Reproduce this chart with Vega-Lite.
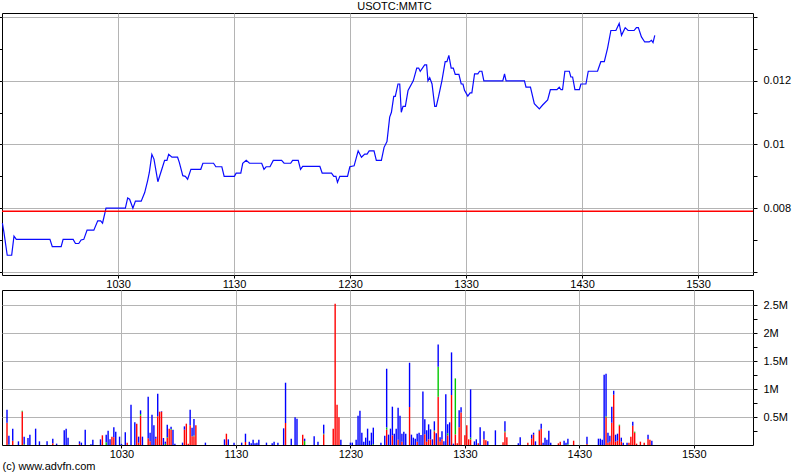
{
  "$schema": "https://vega.github.io/schema/vega-lite/v6.json",
  "background": "white",
  "padding": {"left": -2, "top": 0, "right": 0, "bottom": 0},
  "bounds": "flush",
  "spacing": 15,
  "config": {
    "font": "Liberation Sans",
    "view": {"stroke": "#000000", "strokeWidth": 1},
    "axis": {
      "labelFont": "Liberation Sans",
      "labelFontSize": 11,
      "labelColor": "#000000",
      "gridColor": "#b4b4b4",
      "gridWidth": 1,
      "tickColor": "#000000",
      "domain": false,
      "title": null
    }
  },
  "title": {"text": "USOTC:MMTC", "font": "Liberation Sans", "fontSize": 11, "fontWeight": "normal", "color": "#000000", "anchor": "middle", "offset": 1},
  "datasets": {
    "price": [
      {"t":570.2,"price":0.00753},{"t":571,"price":0.00724},{"t":572.7,"price":0.00652},{"t":575,"price":0.00652},
      {"t":576.2,"price":0.00712},{"t":577.4,"price":0.00702},{"t":594.8,"price":0.00702},{"t":596,"price":0.00679},
      {"t":600.6,"price":0.00679},{"t":601.6,"price":0.00702},{"t":606.8,"price":0.00702},{"t":608,"price":0.00689},
      {"t":609.7,"price":0.00689},{"t":610.9,"price":0.0070},{"t":612.3,"price":0.00702},{"t":614,"price":0.00731},
      {"t":617.5,"price":0.00731},{"t":619.5,"price":0.0076},{"t":621,"price":0.0076},{"t":622,"price":0.00753},
      {"t":623.8,"price":0.0080},{"t":633.8,"price":0.0080},{"t":635,"price":0.00832},{"t":636,"price":0.00828},
      {"t":637.7,"price":0.0080},{"t":639,"price":0.00822},{"t":642,"price":0.00822},{"t":643.8,"price":0.00849},
      {"t":645.3,"price":0.00886},{"t":646.2,"price":0.00912},{"t":647.5,"price":0.00969},{"t":648.6,"price":0.00954},
      {"t":650.6,"price":0.00883},{"t":652.7,"price":0.00923},{"t":654.1,"price":0.0095},{"t":655.3,"price":0.0095},
      {"t":656.2,"price":0.00969},{"t":657.9,"price":0.0096},{"t":660.8,"price":0.0096},{"t":661.7,"price":0.00944},
      {"t":663.5,"price":0.00902},{"t":664.8,"price":0.009},{"t":666,"price":0.00891},{"t":667.7,"price":0.00922},
      {"t":672.8,"price":0.00922},{"t":673.9,"price":0.00941},{"t":679.4,"price":0.00941},{"t":680.6,"price":0.0093},
      {"t":683.7,"price":0.0093},{"t":684.9,"price":0.009},{"t":690.2,"price":0.009},{"t":691.1,"price":0.0091},
      {"t":693.5,"price":0.0091},{"t":694.5,"price":0.00941},{"t":696.3,"price":0.0095},{"t":698,"price":0.00941},
      {"t":704.3,"price":0.00941},{"t":705.5,"price":0.00922},{"t":706.6,"price":0.0093},{"t":708.6,"price":0.0093},
      {"t":710.3,"price":0.0095},{"t":714.6,"price":0.0095},{"t":715.9,"price":0.00941},{"t":719.3,"price":0.00941},
      {"t":720.3,"price":0.0095},{"t":723.2,"price":0.0095},{"t":724.4,"price":0.00922},{"t":725.5,"price":0.00931},
      {"t":734.4,"price":0.00931},{"t":735.6,"price":0.0091},{"t":740.4,"price":0.0091},{"t":741.6,"price":0.009},
      {"t":742.7,"price":0.009},{"t":743.5,"price":0.00881},{"t":744.7,"price":0.009},{"t":748.7,"price":0.009},
      {"t":749.9,"price":0.0093},{"t":752.1,"price":0.00933},{"t":754.2,"price":0.0098},{"t":755.9,"price":0.0096},
      {"t":757.6,"price":0.0097},{"t":758.8,"price":0.0097},{"t":759.9,"price":0.0098},{"t":762.4,"price":0.0098},
      {"t":763.6,"price":0.0095},{"t":766.2,"price":0.0095},{"t":767.6,"price":0.00991},{"t":769.1,"price":0.01009},
      {"t":770.5,"price":0.01086},{"t":771.4,"price":0.01101},{"t":772.6,"price":0.01151},{"t":773.4,"price":0.01151},
      {"t":774.8,"price":0.0119},{"t":775.7,"price":0.0119},{"t":776.5,"price":0.01101},{"t":777.4,"price":0.0112},
      {"t":778.6,"price":0.0112},{"t":780,"price":0.0117},{"t":782.7,"price":0.012},{"t":784.5,"price":0.0124},
      {"t":785.5,"price":0.0124},{"t":786.3,"price":0.0123},{"t":788.6,"price":0.0125},{"t":789.6,"price":0.0125},
      {"t":790.3,"price":0.012},{"t":791.2,"price":0.0121},{"t":792.4,"price":0.0119},{"t":793.8,"price":0.0112},
      {"t":794.6,"price":0.0112},{"t":795.8,"price":0.01151},{"t":797.5,"price":0.012},{"t":799.2,"price":0.0126},
      {"t":800.1,"price":0.0126},{"t":801.1,"price":0.0128},{"t":802.3,"price":0.0124},{"t":803.4,"price":0.0124},
      {"t":804.4,"price":0.0122},{"t":806.3,"price":0.0122},{"t":807.5,"price":0.0119},{"t":808.4,"price":0.0119},
      {"t":809.2,"price":0.0117},{"t":810.9,"price":0.01152},{"t":812.1,"price":0.01162},{"t":813,"price":0.01162},
      {"t":814.4,"price":0.01222},{"t":816.1,"price":0.01222},{"t":817,"price":0.0123},{"t":818.2,"price":0.0123},
      {"t":819.2,"price":0.012},{"t":829,"price":0.012},{"t":829.9,"price":0.01222},{"t":830.7,"price":0.012},
      {"t":840.2,"price":0.012},{"t":841,"price":0.0118},{"t":843.3,"price":0.0118},{"t":845.3,"price":0.01128},
      {"t":847.9,"price":0.01112},{"t":849.6,"price":0.01124},{"t":852.2,"price":0.0114},{"t":853.6,"price":0.01172},
      {"t":857,"price":0.01172},{"t":858.2,"price":0.0118},{"t":859.1,"price":0.01172},{"t":859.9,"price":0.01172},
      {"t":861.1,"price":0.0123},{"t":863.4,"price":0.0123},{"t":864.2,"price":0.01212},{"t":865.1,"price":0.01212},
      {"t":866.3,"price":0.01172},{"t":868.6,"price":0.01172},{"t":869.4,"price":0.0119},{"t":872,"price":0.0119},
      {"t":873.2,"price":0.0123},{"t":878,"price":0.0123},{"t":879.7,"price":0.0126},{"t":881.5,"price":0.0126},
      {"t":883.2,"price":0.01303},{"t":884.9,"price":0.01358},{"t":887.5,"price":0.01358},{"t":889.2,"price":0.0138},
      {"t":890.4,"price":0.01343},{"t":892.3,"price":0.01367},{"t":893.8,"price":0.01358},{"t":896.9,"price":0.01358},
      {"t":898.1,"price":0.01367},{"t":899.1,"price":0.01367},{"t":900.7,"price":0.01338},{"t":902.4,"price":0.01322},
      {"t":904.7,"price":0.01322},{"t":905.9,"price":0.01327},{"t":906.7,"price":0.0132},{"t":907.6,"price":0.01343}
    ],
    "prevclose": [{"price": 0.0079}],
    "volume": [
      {"t":570,"r":393000,"g":5000,"b":233000},{"t":571,"g":10000,"b":157000},{"t":573,"r":77000,"b":215000},
      {"t":576,"b":65000},{"t":578,"r":600000,"g":13000},{"t":579,"g":15000,"b":134000},{"t":581,"b":125000},
      {"t":582,"b":184000},{"t":585,"b":292000},{"t":587,"b":65000},{"t":591,"b":65000},{"t":594,"r":30000,"b":83000},
      {"t":596,"b":24000},{"t":600,"b":262000},{"t":601,"b":292000},{"t":602,"b":131000},{"t":608,"r":20000,"b":45000},
      {"t":609,"b":42000},{"t":611,"b":274000},{"t":614,"b":12000},{"t":615,"b":95000},{"t":619,"b":101000},
      {"t":620,"r":173000},{"t":622,"g":50000,"b":134000},{"t":623,"b":256000},{"t":624,"b":101000},{"t":625,"r":149000},
      {"t":626,"r":137000,"b":178000},{"t":627,"b":238000},{"t":629,"b":149000},{"t":630,"b":20000},{"t":632,"b":226000},
      {"t":633,"r":42000},{"t":635,"b":720000},{"t":637,"b":405000},{"t":638,"r":381000},{"t":639,"r":40000,"b":109000},
      {"t":640,"r":524000,"g":30000,"b":65000},{"t":641,"b":149000},{"t":644,"r":119000,"b":744000},{"t":645,"r":65000,"b":155000},
      {"t":646,"b":542000},{"t":647,"b":351000},{"t":648,"r":113000,"b":36000},{"t":649,"r":512000,"b":405000},
      {"t":650,"r":595000},{"t":651,"r":595000,"b":10000},{"t":652,"b":125000},{"t":653,"g":20000,"b":40000},
      {"t":654,"r":125000,"g":15000,"b":223000},{"t":655,"r":292000},{"t":656,"r":274000,"g":10000,"b":43000},
      {"t":657,"b":274000},{"t":658,"b":24000},{"t":662,"b":42000},{"t":663,"r":274000,"b":59000},{"t":664,"r":381000},
      {"t":665,"r":24000},{"t":666,"r":351000,"b":280000},{"t":667,"r":155000,"b":155000},{"t":668,"r":155000,"g":17000,"b":292000},
      {"t":669,"r":351000},{"t":674,"b":42000},{"t":684,"b":101000},{"t":685,"r":202000},{"t":686,"b":101000},
      {"t":689,"b":42000},{"t":693,"b":42000},{"t":695,"r":54000,"b":148000},{"t":697,"b":60000},{"t":698,"b":30000},
      {"t":699,"b":95000},{"t":700,"b":30000},{"t":701,"b":42000},{"t":702,"b":95000},{"t":706,"b":42000},
      {"t":709,"b":30000},{"t":710,"b":60000},{"t":712,"b":42000},{"t":715,"b":298000},{"t":716,"r":393000,"b":720000},
      {"t":719,"b":113000},{"t":721,"b":494000},{"t":722,"b":470000},{"t":725,"r":185000},{"t":726,"g":70000,"b":43000},
      {"t":731,"b":155000},{"t":733,"b":60000},{"t":736,"r":190000,"g":12000,"b":161000},{"t":741,"r":292000},
      {"t":742,"r":2524000},{"t":743,"r":720000},{"t":744,"r":494000},{"t":745,"b":95000},{"t":750,"b":42000},
      {"t":751,"b":42000},{"t":753,"b":95000},{"t":754,"b":524000},{"t":755,"b":613000},{"t":756,"b":220000},
      {"t":757,"b":60000},{"t":758,"b":131000},{"t":759,"b":292000},{"t":760,"b":77000},{"t":761,"b":220000},
      {"t":762,"g":15000,"b":295000},{"t":766,"b":42000},{"t":768,"b":167000},{"t":769,"r":274000,"g":40000,"b":1049000},
      {"t":770,"b":185000},{"t":771,"b":292000},{"t":772,"r":173000,"b":512000},{"t":773,"b":202000},{"t":774,"b":292000},
      {"t":775,"r":95000,"b":572000},{"t":776,"b":524000},{"t":777,"r":60000,"b":142000},{"t":778,"b":238000},
      {"t":779,"b":202000},{"t":781,"r":679000,"b":791000},{"t":782,"b":185000},{"t":783,"b":131000},{"t":784,"b":113000},
      {"t":785,"r":60000,"b":142000},{"t":786,"b":220000},{"t":787,"b":179000},{"t":788,"b":958000},
      {"t":789,"r":190000,"b":268000},{"t":790,"r":60000,"b":202000},{"t":791,"r":101000,"b":268000},{"t":792,"r":101000,"b":179000},
      {"t":793,"b":101000},{"t":794,"r":244000,"g":18000,"b":161000},{"t":795,"b":208000},{"t":796,"r":863000,"g":536000,"b":399000},
      {"t":797,"r":60000,"b":77000},{"t":798,"r":101000,"b":143000},{"t":799,"b":65000},{"t":800,"b":905000},
      {"t":801,"r":173000,"g":35000,"b":161000},{"t":802,"b":405000},{"t":803,"r":893000,"b":762000},{"t":804,"b":24000},
      {"t":805,"r":190000,"g":1000000},{"t":806,"r":30000},{"t":807,"r":316000,"b":303000},{"t":808,"r":583000,"b":90000},
      {"t":810,"r":173000},{"t":811,"r":351000},{"t":812,"r":101000},{"t":813,"r":101000,"g":30000,"b":863000},
      {"t":815,"b":65000},{"t":816,"b":101000},{"t":817,"r":30000},{"t":818,"b":316000},{"t":820,"r":101000,"b":143000},
      {"t":821,"r":83000},{"t":822,"b":65000},{"t":826,"b":262000},{"t":830,"r":48000},{"t":831,"r":226000,"g":18000,"b":179000},
      {"t":832,"r":137000},{"t":838,"b":30000},{"t":839,"b":137000},{"t":843,"r":42000},{"t":845,"r":113000,"b":71000},
      {"t":846,"r":184000,"b":36000},{"t":847,"b":65000},{"t":849,"r":250000,"g":8000,"b":16000},{"t":850,"r":292000,"b":89000},
      {"t":851,"b":42000},{"t":852,"b":131000},{"t":853,"b":95000},{"t":854,"b":256000},{"t":855,"b":42000},
      {"t":859,"r":30000},{"t":860,"r":60000},{"t":862,"b":77000},{"t":863,"b":42000},{"t":864,"g":15000,"b":98000},
      {"t":867,"r":77000},{"t":874,"r":20000,"b":129000},{"t":880,"b":113000},{"t":881,"b":113000},{"t":882,"b":95000},
      {"t":883,"b":1256000},{"t":884,"r":494000,"g":18000,"b":762000},{"t":885,"r":42000,"b":178000},{"t":886,"r":60000,"b":107000},
      {"t":887,"r":399000,"b":286000},{"t":888,"r":899000,"b":71000},{"t":889,"r":60000,"b":124000},{"t":890,"r":77000,"b":125000},
      {"t":891,"r":345000,"g":18000},{"t":892,"r":60000,"b":71000},{"t":893,"b":42000},{"t":895,"b":42000},
      {"t":896,"r":42000},{"t":897,"r":149000},{"t":898,"r":345000,"b":72000},{"t":899,"r":220000,"g":18000},
      {"t":900,"r":24000},{"t":902,"r":60000},{"t":904,"r":42000},{"t":906,"r":107000,"b":77000},{"t":907,"r":95000},
      {"t":908,"b":77000}
    ]
  },
  "vconcat": [
    {
      "width": 751,
      "height": 262,
      "layer": [
        {
          "data": {"name": "price"},
          "mark": {"type": "line", "color": "#0a0aff", "strokeWidth": 1.2},
          "encoding": {
            "x": {
              "field": "t", "type": "quantitative",
              "scale": {"domain": [570, 958.4], "nice": false, "zero": false},
              "axis": {
                "values": [630, 690, 750, 810, 870, 930],
                "labelExpr": "'' + (floor(datum.value/60)*100 + datum.value%60)",
                "grid": true, "tickSize": 3, "labelPadding": 0, "labelFlush": false
              }
            },
            "y": {
              "field": "price", "type": "quantitative",
              "scale": {"domain": [0.0059, 0.01413], "nice": false, "zero": false},
              "axis": {
                "orient": "right",
                "values": [0.006, 0.007, 0.008, 0.009, 0.01, 0.011, 0.012, 0.013, 0.014],
                "labelExpr": "(round(datum.value*1000) % 2 == 0 && datum.value > 0.0065 && datum.value < 0.0135) ? format(datum.value, '~g') : ''",
                "grid": true,
                "gridOpacity": {"condition": {"test": "round(datum.value*1000) % 2 == 0", "value": 1}, "value": 0},
                "tickSize": 4, "labelPadding": 6
              }
            }
          }
        },
        {
          "data": {"name": "prevclose"},
          "mark": {"type": "rule", "color": "#ff0000", "strokeWidth": 1.5},
          "encoding": {
            "y": {
              "field": "price", "type": "quantitative",
              "axis": {
                "orient": "left",
                "values": [0.006, 0.007, 0.008, 0.009, 0.01, 0.011, 0.012, 0.013, 0.014],
                "labels": false, "grid": false, "tickSize": 3
              }
            }
          }
        }
      ],
      "resolve": {"axis": {"y": "independent"}}
    },
    {
      "width": 751,
      "height": 155,
      "data": {"name": "volume"},
      "transform": [
        {"fold": ["r", "g", "b"], "as": ["part", "vol"]},
        {"filter": "datum.vol > 0"}
      ],
      "mark": {"type": "bar", "size": 1.4},
      "encoding": {
        "x": {
          "field": "t", "type": "quantitative",
          "scale": {"domain": [570, 958.4], "nice": false, "zero": false},
          "axis": {
            "values": [630, 690, 750, 810, 870, 930],
            "labelExpr": "'' + (floor(datum.value/60)*100 + datum.value%60)",
            "grid": true, "tickSize": 3, "labelPadding": 0, "labelFlush": false,
            "title": "(c) www.advfn.com",
            "titleFont": "Liberation Sans", "titleFontSize": 11, "titleFontWeight": "normal",
            "titleColor": "#000000", "titleAnchor": "start", "titleAlign": "left",
            "titleX": 0, "titleY": 15, "titleBaseline": "top"
          }
        },
        "y": {
          "field": "vol", "type": "quantitative", "stack": "zero",
          "scale": {"domain": [0, 2770000], "nice": false},
          "axis": {
            "orient": "right",
            "values": [250000, 500000, 750000, 1000000, 1250000, 1500000, 1750000, 2000000, 2250000, 2500000],
            "labelExpr": "datum.value % 500000 == 0 ? (datum.value/1000000) + 'M' : ''",
            "grid": true,
            "gridOpacity": {"condition": {"test": "datum.value % 500000 == 0", "value": 1}, "value": 0},
            "tickSize": 4, "labelPadding": 6
          }
        },
        "color": {
          "field": "part", "type": "nominal",
          "scale": {"domain": ["r", "g", "b"], "range": ["#ff0000", "#00c800", "#0000ff"]},
          "legend": null
        },
        "order": {"field": "part", "sort": "descending"}
      }
    }
  ]
}
